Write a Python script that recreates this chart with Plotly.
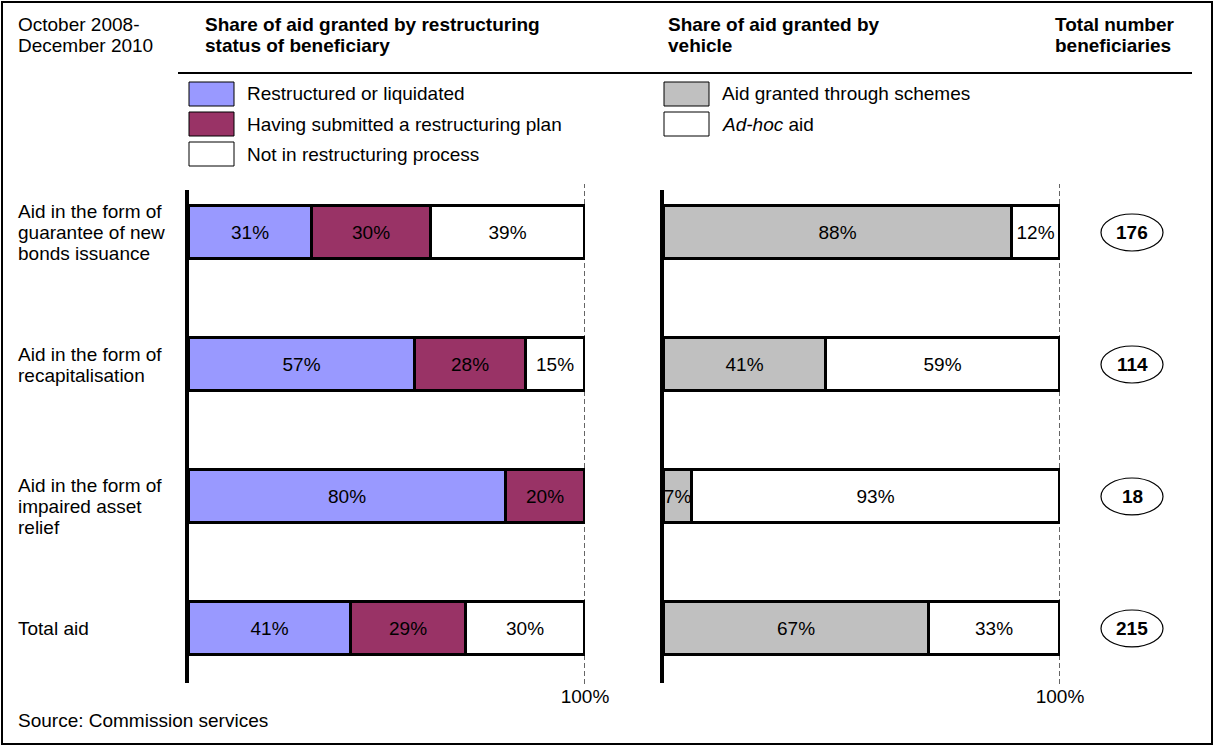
import plotly.graph_objects as go

# ---------------- data ----------------
categories = [
    "Aid in the form of<br>guarantee of new<br>bonds issuance",
    "Aid in the form of<br>recapitalisation",
    "Aid in the form of<br>impaired asset<br>relief",
    "Total aid",
]
status_names = ["Restructured or liquidated", "Having submitted a restructuring plan", "Not in restructuring process"]
restructured = [31, 57, 80, 41]
submitted_plan = [30, 28, 20, 29]
not_restructuring = [39, 15, 0, 30]

vehicle_names = ["Aid granted through schemes", "<i>Ad-hoc</i> aid"]
schemes = [88, 41, 7, 67]
adhoc = [12, 59, 93, 33]

beneficiaries = [176, 114, 18, 215]

period_label = "October 2008-<br>December 2010"
title_left = "Share of aid granted by restructuring<br>status of beneficiary"
title_right = "Share of aid granted by<br>vehicle"
title_count = "Total number<br>beneficiaries"
source_text = "Source: Commission services"
axis_end_label = "100%"

# ---------------- styles ----------------
W, H = 1214, 746
FONT = "Arial, 'Liberation Sans', Helvetica, sans-serif"
FS = 19
LINE = 21
TX = -2  # annotation text inset compensation
status_colors = ["#9999FF", "#993366", "#FFFFFF"]
vehicle_colors = ["#C0C0C0", "#FFFFFF"]


def px(x):
    return x / W


def py(y):
    return 1 - y / H


ypos = list(range(len(categories)))
fig = go.Figure()


def pct(vals):
    return [f"{v}%" if v else "" for v in vals]


for name, vals, col in zip(status_names, [restructured, submitted_plan, not_restructuring], status_colors):
    fig.add_trace(go.Bar(
        y=ypos, x=vals, orientation="h", name=name, width=0.4,
        marker=dict(color=col, line=dict(color="black", width=2.8)),
        text=pct(vals), textposition="inside", insidetextanchor="middle",
        constraintext="none", textangle=0,
        textfont=dict(family=FONT, size=FS, color="black"),
        xaxis="x", yaxis="y", showlegend=False, hoverinfo="skip",
    ))

for name, vals, col in zip(vehicle_names, [schemes, adhoc], vehicle_colors):
    fig.add_trace(go.Bar(
        y=ypos, x=vals, orientation="h", name=name, width=0.4,
        marker=dict(color=col, line=dict(color="black", width=2.8)),
        text=pct(vals), textposition="inside", insidetextanchor="middle",
        constraintext="none", textangle=0,
        textfont=dict(family=FONT, size=FS, color="black"),
        xaxis="x2", yaxis="y2", showlegend=False, hoverinfo="skip",
    ))

ydom = [py(683), py(190)]
yrange = [3.413, -0.322]
xcommon = dict(range=[0, 100], showgrid=False, zeroline=False, showline=False,
               tickvals=[100], ticktext=[axis_end_label], ticks="", automargin=False,
               tickfont=dict(family=FONT, size=FS, color="black"), fixedrange=True)
ycommon = dict(domain=ydom, range=yrange, showgrid=False, zeroline=False,
               showline=True, linecolor="black", linewidth=4, automargin=False,
               showticklabels=False, ticks="", fixedrange=True)

fig.update_layout(
    width=W, height=H, autosize=False,
    margin=dict(l=0, r=0, t=0, b=0, pad=0, autoexpand=False),
    paper_bgcolor="white", plot_bgcolor="rgba(0,0,0,0)",
    barmode="stack", bargap=0,
    font=dict(family=FONT, size=FS, color="black"),
    xaxis=dict(domain=[px(189), px(585)], anchor="y", **xcommon),
    xaxis2=dict(domain=[px(664), px(1060)], anchor="y2", **xcommon),
    yaxis=dict(anchor="x", **ycommon),
    yaxis2=dict(anchor="x2", **ycommon),
    showlegend=False,
)

shapes = []
annotations = []


def text_lines(txt, x, y_center, yref="paper", y_data=None, bold=False):
    """Place multi-line text one line at a time with a fixed line pitch."""
    lines = txt.split("<br>")
    n = len(lines)
    for k, ln in enumerate(lines):
        off = (k - (n - 1) / 2) * LINE
        s = f"<b>{ln}</b>" if bold else ln
        if yref == "paper":
            annotations.append(dict(text=s, xref="paper", yref="paper", x=px(x + TX), y=py(y_center + off),
                                    xanchor="left", yanchor="middle", showarrow=False,
                                    font=dict(family=FONT, size=FS, color="black")))
        else:
            annotations.append(dict(text=s, xref="paper", yref=yref, x=px(x + TX), y=y_data,
                                    yshift=-off - y_center, xanchor="left", yanchor="middle", showarrow=False,
                                    font=dict(family=FONT, size=FS, color="black")))


# outer frame
shapes.append(dict(type="rect", xref="paper", yref="paper", x0=px(2), x1=px(1212), y0=py(744), y1=py(2),
                   line=dict(color="black", width=2), fillcolor="rgba(0,0,0,0)", layer="above"))
# header rule
shapes.append(dict(type="line", xref="paper", yref="paper", x0=px(178), x1=px(1192), y0=py(73), y1=py(73),
                   line=dict(color="black", width=2)))
# dashed 100% lines
for xr in ["x", "x2"]:
    shapes.append(dict(type="line", xref=xr, yref="paper", x0=100, x1=100, y0=py(684), y1=py(184),
                       line=dict(color="black", width=1.2, dash="5px,3px"), layer="below"))

# header texts
text_lines(period_label, 18, 34.5)
text_lines(title_left, 205, 34.5, bold=True)
text_lines(title_right, 668, 34.5, bold=True)
text_lines(title_count, 1055, 34.5, bold=True)


# legends
def legend_block(names, colors, x_box, y_start):
    for i, (n, c) in enumerate(zip(names, colors)):
        yc = y_start + i * 30
        shapes.append(dict(type="rect", xref="paper", yref="paper", x0=px(x_box), x1=px(x_box + 45),
                           y0=py(yc + 12), y1=py(yc - 12), fillcolor=c, line=dict(color="black", width=1)))
        annotations.append(dict(text=n, xref="paper", yref="paper", x=px(x_box + 58 + TX), y=py(yc),
                                xanchor="left", yanchor="middle", showarrow=False,
                                font=dict(family=FONT, size=FS, color="black")))


legend_block(status_names, status_colors, 189, 94)
legend_block(vehicle_names, vehicle_colors, 664, 94)

# category labels
for i, c in enumerate(categories):
    shift = 10 if i == 2 else 0
    text_lines(c, 18, shift, yref="y", y_data=i)

# beneficiaries ellipses
for i, n in enumerate(beneficiaries):
    shapes.append(dict(type="circle", xref="paper", yref="y", x0=px(1101), x1=px(1163),
                       y0=i - 0.14, y1=i + 0.14, line=dict(color="black", width=1.2)))
    annotations.append(dict(text=f"<b>{n}</b>", xref="paper", yref="y", x=px(1132), y=i,
                            xanchor="center", yanchor="middle", showarrow=False,
                            font=dict(family=FONT, size=FS, color="black")))

# source
annotations.append(dict(text=source_text, xref="paper", yref="paper", x=px(18 + TX), y=py(720),
                        xanchor="left", yanchor="middle", showarrow=False,
                        font=dict(family=FONT, size=FS, color="black")))

fig.update_layout(shapes=shapes, annotations=annotations)
fig.write_html("out.html", config={"displayModeBar": False},
               post_script="document.body.style.margin='0';document.body.style.overflow='hidden';")
